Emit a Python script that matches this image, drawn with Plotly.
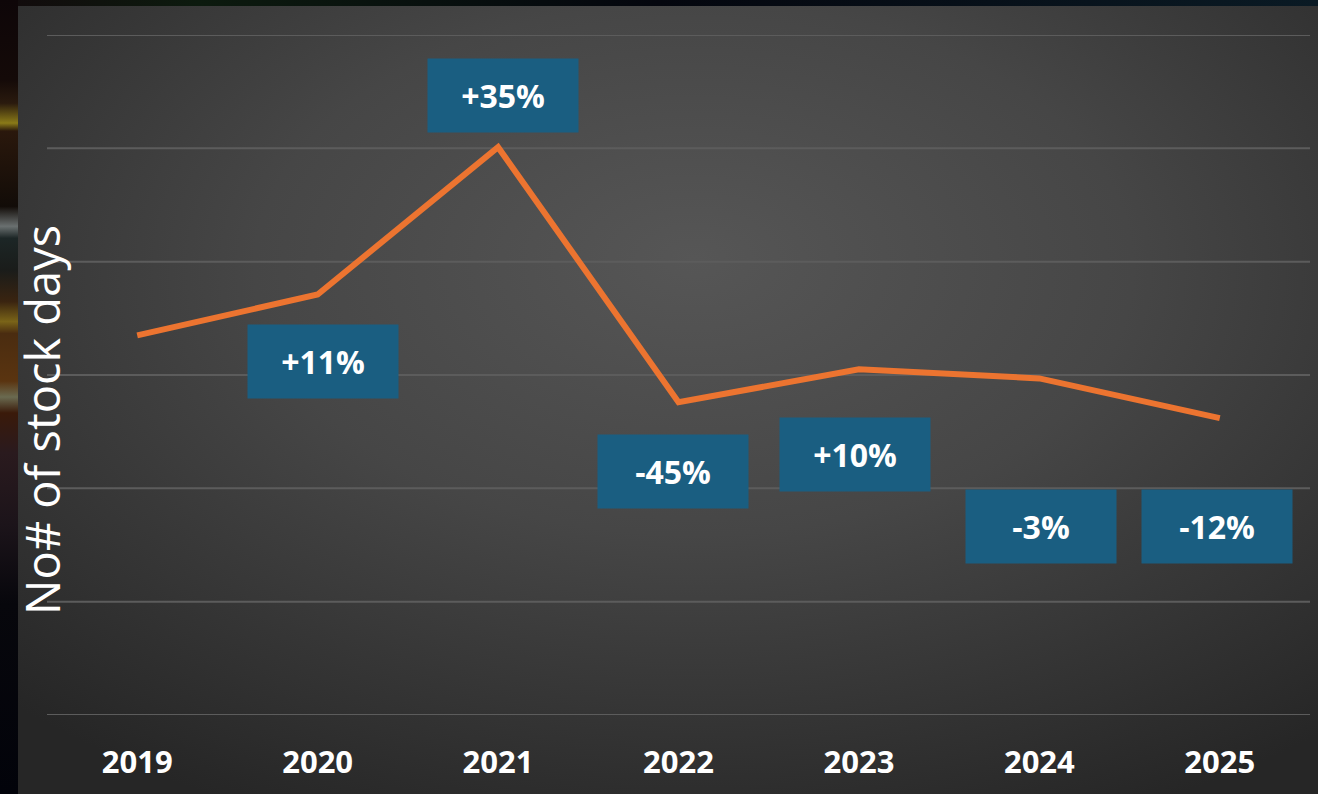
import plotly.graph_objects as go
import base64

# ---- data ----
years = [2019, 2020, 2021, 2022, 2023, 2024, 2025]
year_labels = ["2019", "2020", "2021", "2022", "2023", "2024", "2025"]
stock_days = [33.5, 37.1, 50.1, 27.6, 30.5, 29.7, 26.2]
change_labels = ["+11%", "+35%", "-45%", "+10%", "-3%", "-12%"]
change_years = [2020, 2021, 2022, 2023, 2024, 2025]
label_y = [31.15, 54.7, 21.5, 23.0, 16.6, 16.6]   # box centre heights (data units)
label_xshift = [5, 5, -6, -4, 2, -3]
grid_vals = [0, 10, 20, 30, 40, 50, 60]

# ---- layout geometry ----
W, H = 1318, 794
ML, MR, MT, MB = 47, 8, 35, 79
PW, PH = W - ML - MR, H - MT - MB

# ---- background (svg) ----
svg = f'''<svg xmlns="http://www.w3.org/2000/svg" width="{W}" height="{H}" viewBox="0 0 {W} {H}" preserveAspectRatio="none">
<defs>
<radialGradient id="g" cx="0.52" cy="0.35" r="0.75" fx="0.52" fy="0.32">
<stop offset="0" stop-color="#565656"/>
<stop offset="0.45" stop-color="#464646"/>
<stop offset="1" stop-color="#262626"/>
</radialGradient>
<linearGradient id="s" x1="0" y1="0" x2="0" y2="1">
<stop offset="0" stop-color="#0e0608"/>
<stop offset="0.10" stop-color="#140a08"/>
<stop offset="0.13" stop-color="#2a1a0e"/>
<stop offset="0.155" stop-color="#8a7a18"/>
<stop offset="0.165" stop-color="#2a180c"/>
<stop offset="0.26" stop-color="#120c08"/>
<stop offset="0.285" stop-color="#6a7070"/>
<stop offset="0.30" stop-color="#1c2626"/>
<stop offset="0.34" stop-color="#1a1c1a"/>
<stop offset="0.38" stop-color="#3a2410"/>
<stop offset="0.405" stop-color="#7a6418"/>
<stop offset="0.42" stop-color="#4a2c10"/>
<stop offset="0.48" stop-color="#5a3410"/>
<stop offset="0.50" stop-color="#6a6a50"/>
<stop offset="0.52" stop-color="#3a1a0a"/>
<stop offset="0.57" stop-color="#2a1a1e"/>
<stop offset="0.66" stop-color="#1c141a"/>
<stop offset="0.76" stop-color="#07070c"/>
<stop offset="1" stop-color="#02030a"/>
</linearGradient>
<linearGradient id="t" x1="0" y1="0" x2="1" y2="0">
<stop offset="0" stop-color="#120a0c"/>
<stop offset="0.15" stop-color="#0c1a0e"/>
<stop offset="0.5" stop-color="#04060e"/>
<stop offset="1" stop-color="#0a1a24"/>
</linearGradient>
</defs>
<rect x="0" y="0" width="{W}" height="{H}" fill="#05060a"/>
<rect x="0" y="0" width="{W}" height="6" fill="url(#t)"/>
<rect x="0" y="0" width="18" height="{H}" fill="url(#s)"/>
<rect x="18" y="6" width="{W-18}" height="{H-6}" fill="url(#g)"/>
</svg>'''
src = "data:image/svg+xml;base64," + base64.b64encode(svg.encode()).decode()

fig = go.Figure()

fig.add_trace(go.Scatter(
    x=years, y=stock_days, mode="lines",
    line=dict(color="#ec7430", width=6),
    hoverinfo="skip", showlegend=False,
))

annotations = []
for yr, txt, ly, xs in zip(change_years, change_labels, label_y, label_xshift):
    annotations.append(dict(
        x=yr, y=ly, xref="x", yref="y", text="<b>" + txt + "</b>",
        showarrow=False, xshift=xs, xanchor="center", yanchor="middle",
        width=148, height=71, bgcolor="#1a5e81",
        font=dict(family="Open Sans", size=32, color="white"),
    ))

annotations.append(dict(
    x=-5 / PW, y=(715 - 420) / PH, xref="paper", yref="paper",
    text="No# of stock days", textangle=-90, showarrow=False,
    font=dict(family="Open Sans", size=47, color="white"),
    xanchor="center", yanchor="middle",
))

shapes = [dict(type="line", xref="paper", yref="y", x0=0, x1=1, y0=g, y1=g,
               line=dict(color="#5c5c5c", width=2), layer="below")
          for g in grid_vals]

fig.update_layout(
    width=W, height=H,
    margin=dict(l=ML, r=MR, t=MT, b=MB),
    paper_bgcolor="#05060a", plot_bgcolor="rgba(0,0,0,0)",
    showlegend=False,
    annotations=annotations,
    shapes=shapes,
    images=[dict(
        source=src, xref="paper", yref="paper",
        x=-ML / PW, y=(PH + MT) / PH, sizex=W / PW, sizey=H / PH,
        xanchor="left", yanchor="top", sizing="stretch", layer="below",
    )],
    xaxis=dict(
        range=[2018.5, 2025.5],
        tickvals=years, ticktext=year_labels,
        showgrid=False, zeroline=False, showline=False,
        ticks="outside", ticklen=20, tickcolor="rgba(0,0,0,0)",
        tickfont=dict(family="Open Sans", size=31, color="white", weight="bold"),
        fixedrange=True,
    ),
    yaxis=dict(
        range=[0, 60], showticklabels=False,
        showgrid=False, zeroline=False, showline=False, fixedrange=True,
    ),
)

fig.write_html("out.html")
